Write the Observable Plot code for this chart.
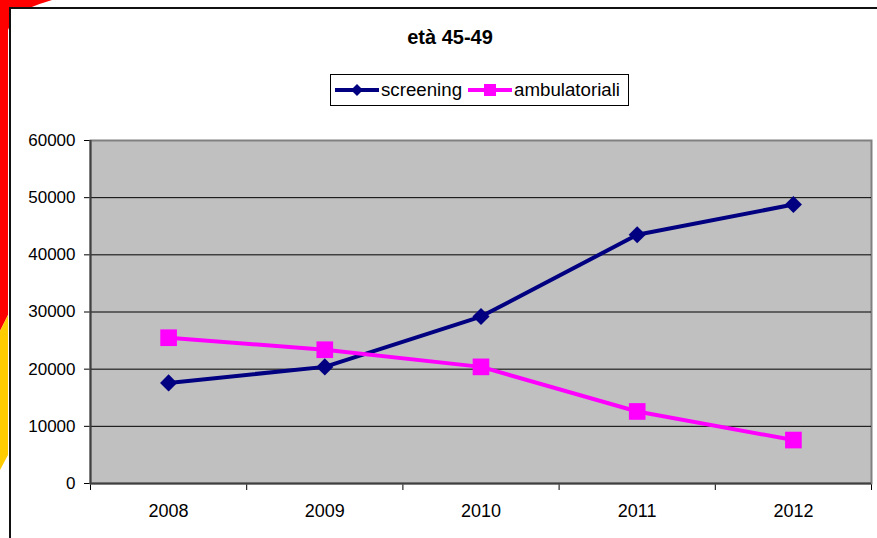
<!DOCTYPE html>
<html>
<head>
<meta charset="utf-8">
<script src="https://cdn.jsdelivr.net/npm/d3@7"></script>
<script src="https://cdn.jsdelivr.net/npm/@observablehq/plot@0.6"></script>
<style>
  html, body { margin: 0; padding: 0; background: #fff; }
  #wrap { position: relative; width: 877px; height: 538px; overflow: hidden; font-family: "Liberation Sans", Arial, sans-serif; }
  #deco { position: absolute; left: 0; top: 0; z-index: 0; }
  #frame { position: absolute; left: 9px; top: 7px; right: -10px; bottom: -10px; background: #fff; border-left: 2px solid #111; border-top: 2px solid #111; z-index: 1; }
  #chart { position: absolute; left: 0; top: 0; z-index: 2; }
  #title { position: absolute; left: 0; width: 900px; top: 26px; text-align: center; font-weight: bold; font-size: 20px; color: #000; z-index: 3; }
  #legend { position: absolute; left: 330px; top: 74px; width: 297px; height: 30px; border: 1px solid #000; background: #fff; z-index: 3; display: flex; align-items: center; font-size: 18.7px; color: #000; }
  #legend .item { display: flex; align-items: center; }
  #legend svg { display: block; }
</style>
</head>
<body>
<div id="wrap">
  <svg id="deco" width="60" height="538">
    <path d="M0 0 L52 0 C36 5 16 10 8 30 L8 315 L0 331 Z" fill="#FF0000"/>
    <path d="M0 331 L8 315 L8 455 L0 470 Z" fill="#FFCC00"/>
  </svg>
  <div id="frame"></div>
  <div id="chart"></div>
  <div id="title">età 45-49</div>
  <div id="legend"></div>
</div>
<script>
const years = [2008, 2009, 2010, 2011, 2012];
const screening = [17600, 20400, 29200, 43500, 48800];
const ambulatoriali = [25500, 23400, 20400, 12600, 7600];
const yTicks = [0, 10000, 20000, 30000, 40000, 50000, 60000];
const seriesNames = ["screening", "ambulatoriali"];
const seriesColors = ["#000080", "#FF00FF"];

const boundaries = d3.range(years.length + 1).map(i => years[0] - 0.5 + i);
const scrRows = years.map((year, i) => ({year, value: screening[i]}));
const ambRows = years.map((year, i) => ({year, value: ambulatoriali[i]}));

const chart = Plot.plot({
  width: 877,
  height: 538,
  marginLeft: 90,
  marginRight: 6,
  marginTop: 140,
  marginBottom: 55,
  style: {background: "transparent", fontFamily: "'Liberation Sans', Arial, sans-serif", fontSize: "17px", color: "#000"},
  x: {type: "linear", domain: [boundaries[0], boundaries[boundaries.length - 1]], ticks: boundaries, tickFormat: () => "", tickSize: 7, label: null},
  y: {domain: [0, 60000], ticks: yTicks, tickSize: 6, tickPadding: 9, tickFormat: d => String(d), label: null},
  marks: [
    Plot.frame({fill: "#C0C0C0", stroke: "#808080", strokeWidth: 2}),
    Plot.ruleY(yTicks.filter(d => d > 0 && d < 60000), {stroke: "#000", strokeWidth: 1}),
    Plot.ruleX(boundaries.slice(0, 1), {stroke: "#404040", strokeWidth: 2}),
    Plot.ruleY([0], {stroke: "#404040", strokeWidth: 2}),
    Plot.text(years, {x: d => d, y: 0, dy: 28, text: d => String(d), fontSize: 18, fill: "#000"}),
    Plot.line(scrRows, {x: "year", y: "value", stroke: seriesColors[0], strokeWidth: 4}),
    Plot.dot(scrRows, {x: "year", y: "value", symbol: d3.symbolDiamond2, r: 7.7, fill: seriesColors[0], stroke: "none"}),
    Plot.line(ambRows, {x: "year", y: "value", stroke: seriesColors[1], strokeWidth: 4}),
    Plot.dot(ambRows, {x: "year", y: "value", symbol: "square", r: 9.4, fill: seriesColors[1], stroke: "none"})
  ]
});
document.getElementById("chart").appendChild(chart);

// Legend
const legend = document.getElementById("legend");
const symbols = [
  '<path d="M22 8 L28 14 L22 20 L16 14 Z" fill="#000080"/>',
  '<rect x="16" y="8" width="12" height="12" fill="#FF00FF"/>'
];
seriesNames.forEach((name, i) => {
  const item = document.createElement("div");
  item.className = "item";
  item.style.marginLeft = i === 0 ? "4px" : "6px";
  item.innerHTML = `<svg width="44" height="28"><line x1="0" y1="14" x2="44" y2="14" stroke="${seriesColors[i]}" stroke-width="4"/>${symbols[i]}</svg><span style="margin-left:2px">${name}</span>`;
  legend.appendChild(item);
});
</script>
</body>
</html>
